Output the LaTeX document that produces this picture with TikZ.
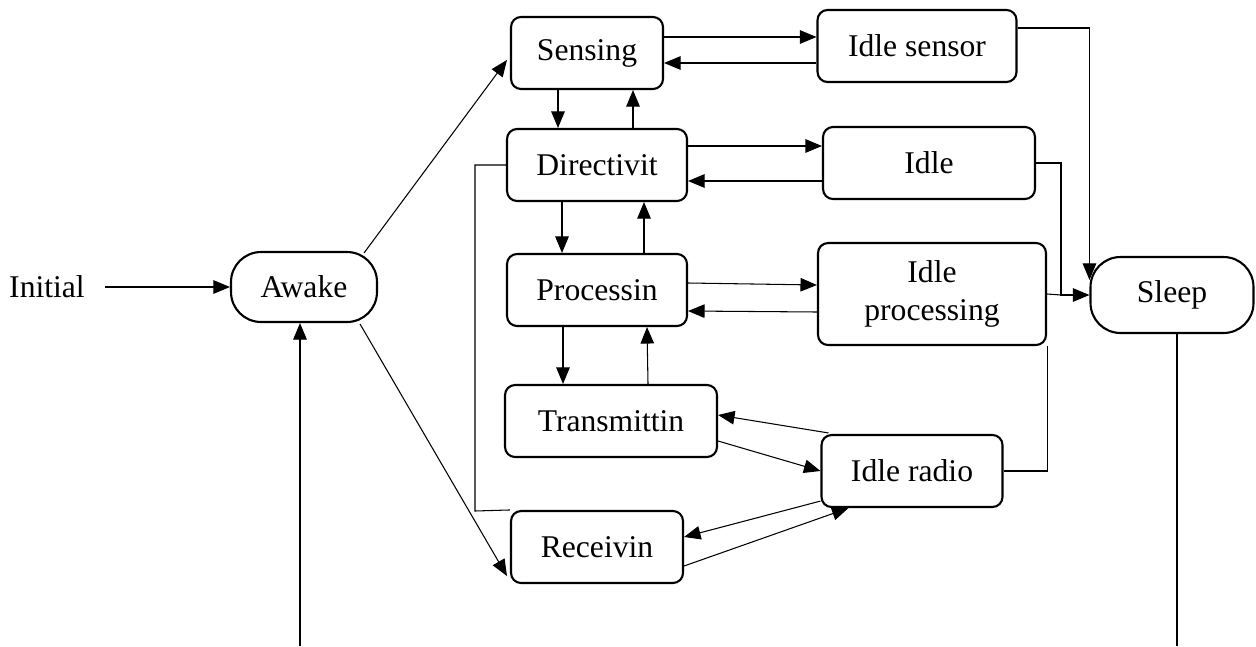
\documentclass[tikz,border=0pt]{standalone}
\usepackage{fontspec}
\setmainfont{Liberation Serif}
\usepackage{tikz}
\usetikzlibrary{arrows.meta,calc}

\begin{document}
\begin{tikzpicture}[
x=0.02cm, y=-0.02cm,
font=\fontsize{18}{21.6}\selectfont,
box/.style={draw, line width=1.2pt, rounded corners=0.2cm, minimum height=1.44cm, align=center, inner sep=0pt},
pill/.style={draw, line width=1.2pt, rounded corners=0.6cm, minimum height=1.44cm, align=center, inner sep=0pt},
link/.style={line width=0.6pt},
arr/.style={-{Triangle[length=3.3mm, width=2.7mm]}, line width=0.6pt}
]
\useasboundingbox (0,0) rectangle (1256,646);

% Start and end states
\node (init) at (47,287) {Initial};
\node[pill, minimum width=2.92cm, minimum height=1.4cm] (awake) at (304,287) {Awake};
\node[pill, minimum width=3.26cm, minimum height=1.52cm] (sleep) at (1172,295) {Sleep};

% Working states
\node[box, minimum width=3.04cm] (sens) at (587,53) {Sensing};
\node[box, minimum width=3.6cm]  (dir)  at (597,165) {Directivit};
\node[box, minimum width=3.6cm]  (proc) at (597,290) {Processin};
\node[box, minimum width=4.24cm] (trans) at (611,421) {Transmittin};
\node[box, minimum width=3.44cm] (recv) at (597,547) {Receivin};

% Idle states
\node[box, minimum width=3.98cm] (isens) at (917,46) {Idle sensor};
\node[box, minimum width=4.24cm] (idle)  at (929,163) {Idle};
\node[box, minimum width=4.56cm, minimum height=2.04cm] (iproc) at (932,294) {Idle\\processing};
\node[box, minimum width=3.62cm] (irad)  at (912,471) {Idle radio};

% Entry
\draw[arr] ($(init.east)+(14,0)$) -- (awake.west);
\coordinate (abot) at (300,646);
\draw[arr] (abot) -- (abot |- awake.south);
\draw[arr] ($(awake.north east)+(-14,2)$) -- ($(sens.west)+(-3,7)$);
\draw[arr] ($(awake.south east)+(-18,1)$) -- ($(recv.south west)+(-3,-8)$);

% Down and up the working column
\draw[arr] (558,0 |- sens.south) -- (558,0 |- dir.north);
\draw[arr] (633,0 |- dir.north) -- (633,0 |- sens.south);
\draw[arr] (562,0 |- dir.south) -- (562,0 |- proc.north);
\draw[arr] (644,0 |- proc.north) -- (644,0 |- dir.south);
\draw[arr] (563,0 |- proc.south) -- (563,0 |- trans.north);
\draw[arr] (648,0 |- trans.north) -- (647,0 |- proc.south);

% To and from the idle states
\draw[arr] (sens.east |- 0,37) -- (isens.west |- 0,37);
\draw[arr] (isens.west |- 0,63) -- (sens.east |- 0,63);
\draw[arr] (dir.east |- 0,146) -- (idle.west |- 0,146);
\draw[arr] (idle.west |- 0,181) -- (dir.east |- 0,181);
\draw[arr] (proc.east |- 0,283) -- (iproc.west |- 0,285);
\draw[arr] (iproc.west |- 0,312) -- (proc.east |- 0,311);
\draw[arr] ($(irad.north west)+(8,-1)$) -- ($(trans.east)+(0,-6)$);
\draw[arr] ($(trans.east)+(0,20)$) -- (irad.west);
\draw[arr] ($(irad.south west)+(0,-7)$) -- ($(recv.east)+(0,-10)$);
\draw[arr] ($(recv.east)+(0,19)$) -- ($(irad.south west)+(28,0)$);

% Loop from Directivit
\coordinate (loop) at (475,511);
\draw[link] (dir.west) -| (loop) -- (recv.north west);

% Into sleep
\coordinate (jn) at (1061,295);
\draw[arr] (isens.east |- 0,28) -| ($(sleep.north west)+(0,24)$);
\draw[arr] (idle.east) -| (jn) -- (sleep.west);
\draw[link] (iproc.east) -- (jn);
\draw[link] (irad.east) -| (iproc.south east);
\coordinate (sbot) at (1177,646);
\draw[link] (sbot |- sleep.south) -- (sbot);

\end{tikzpicture}
\end{document}
